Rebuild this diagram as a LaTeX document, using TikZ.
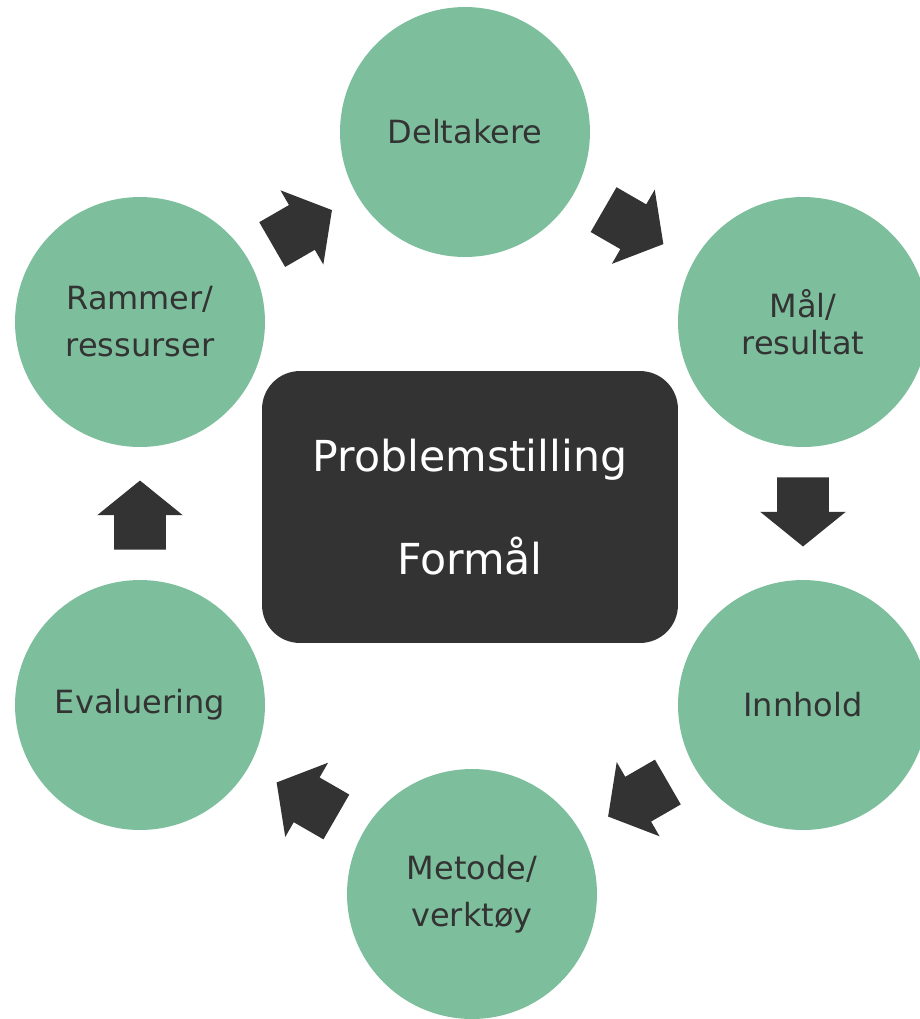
\documentclass[tikz,border=0pt]{standalone}
\usepackage{fontspec}
\setmainfont{DejaVu Sans}
\usetikzlibrary{shapes.arrows,calc}
\definecolor{topicgreen}{RGB}{125,191,157}
\definecolor{darkgrey}{RGB}{51,51,51}

\begin{document}
\begin{tikzpicture}[x=0.02cm, y=-0.02cm,
  topic/.style={circle, fill=topicgreen, minimum size=5cm, inner sep=0pt, outer sep=0pt, text=darkgrey, align=center, font=\fontsize{18.2}{26.7}\selectfont},
  blockarrow/.style={single arrow, fill=darkgrey, minimum height=1.38cm, inner xsep=0pt, inner ysep=0.51cm, single arrow head extend=0.34cm, single arrow tip angle=102, outer sep=0pt}]
\clip (0,0) rectangle (920,1019);

\node[topic] (del) at (465,132) {Deltakere};
\node[topic, font=\fontsize{18.2}{21}\selectfont] (maal) at (803,322) {Mål/\\resultat};
\node[topic] (innh) at (803,705) {Innhold};
\node[topic] (meto) at (472,894) {Metode/\\verktøy};
\node[topic] (eval) at (140,705) {Evaluering};
\node[topic] (ram) at (140,322) {Rammer/\\ressurser};

\node[fill=darkgrey, rounded corners=0.76cm, minimum width=8.32cm, minimum height=5.44cm, text=white, align=center, font=\fontsize{24.3}{59}\selectfont] (prob) at (470,507) {Problemstilling\\Formål};

\node[blockarrow, rotate=30] (pil1) at ($(ram)!0.5!(del)!0.22cm!(ram)$) {};
\node[blockarrow, rotate=-30] (pil2) at ($(del)!0.5!(maal)!0.22cm!(del)$) {};
\node[blockarrow, rotate=-90] (pil3) at ($(maal)!0.5!(innh)!0.24cm!(maal)$) {};
\node[blockarrow, rotate=-150] (pil4) at ($(innh)!0.5!(meto)!0.22cm!(innh)$) {};
\node[blockarrow, rotate=150] (pil5) at ($(meto)!0.5!(eval)!0.22cm!(meto)$) {};
\node[blockarrow, rotate=90] (pil6) at ($(eval)!0.5!(ram)!0.24cm!(eval)$) {};
\end{tikzpicture}
\end{document}
